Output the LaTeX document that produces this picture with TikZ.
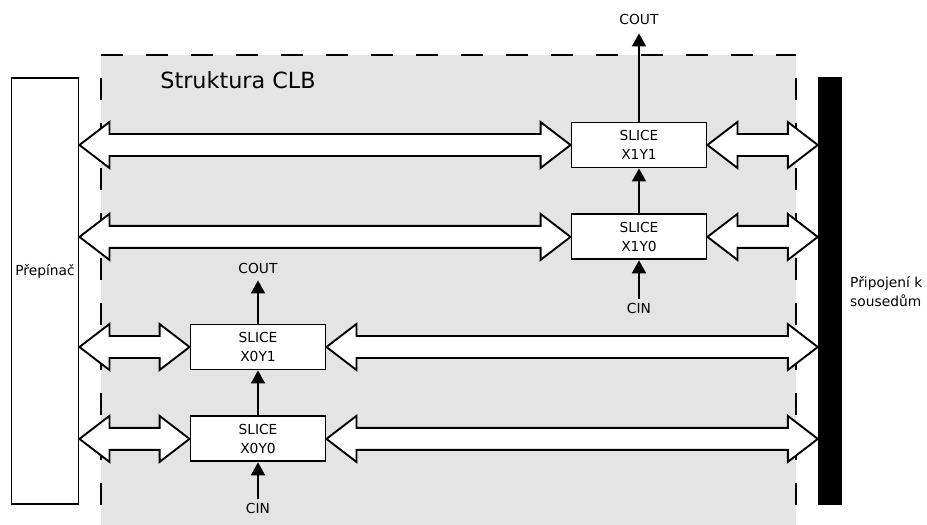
\documentclass[tikz,border=0pt]{standalone}
\usepackage{fontspec}
\setmainfont{DejaVu Sans}
\usetikzlibrary{arrows.meta,calc,positioning}

\definecolor{clbgray}{HTML}{E4E4E4}

\tikzset{
  slice/.style={draw, line width=1.9pt, fill=white, minimum width=135pt,
    minimum height=45pt, inner sep=0pt, align=center,
    font=\fontsize{13.8}{18.3}\selectfont},
  busarrow/.style={draw, line width=1.9pt, fill=white, line join=miter},
  carry/.style={line width=1.9pt, -{Triangle[length=13pt,width=14pt]}},
  lbl/.style={inner sep=0pt, font=\fontsize{13.8}{19}\selectfont},
  border/.style={line width=1.9pt, dash pattern=on 22pt off 23pt},
}

% fat double arrow between two points on one row
\newcommand\busarrow[2]{%
  \path[busarrow] let \p1=(#1), \p2=(#2) in
    (\x1,\y1) -- (\x1+30pt,\y1+23pt) -- (\x1+30pt,\y1+11pt)
    -- (\x2-30pt,\y2+11pt) -- (\x2-30pt,\y2+23pt) -- (\x2,\y2)
    -- (\x2-30pt,\y2-23pt) -- (\x2-30pt,\y2-11pt)
    -- (\x1+30pt,\y1-11pt) -- (\x1+30pt,\y1-23pt) -- cycle;}

\begin{document}
\begin{tikzpicture}[x=1pt,y=-1pt]
\useasboundingbox (0,0) rectangle (927,525);

% CLB area
\fill[clbgray] (101,55) rectangle (796,525);
\draw[border] (101,55) -- (796,55);
\draw[border, dash phase=22pt] (101,55) -- (101,525);
\draw[border, dash phase=22pt] (796,55) -- (796,525);
\node[inner sep=0pt, font=\fontsize{22.3}{26}\selectfont] (title) at (238,80) {Struktura CLB};

% switch and neighbours
\node[draw, line width=1.9pt, minimum width=67pt, minimum height=426pt, inner sep=0pt] (sw) at (45,291) {};
\node[lbl] (swlbl) at (45,271) {Přepínač};
\node[fill=black, minimum width=24pt, minimum height=428pt, inner sep=0pt] (nb) at (830,291) {};
\node[lbl, align=left, anchor=west] (nblbl) at (850,292) {Připojení k\\sousedům};

% slices
\node[slice] (s11) at (639,145) {SLICE\\X1Y1};
\node[slice, below=45pt of s11] (s10) {SLICE\\X1Y0};
\node[slice] (s01) at (258,347) {SLICE\\X0Y1};
\node[slice, below=45pt of s01] (s00) {SLICE\\X0Y0};

% buses
\busarrow{sw.east |- s11.west}{s11.west}
\busarrow{s11.east}{nb.west |- s11.east}
\busarrow{sw.east |- s10.west}{s10.west}
\busarrow{s10.east}{nb.west |- s10.east}
\busarrow{sw.east |- s01.west}{s01.west}
\busarrow{s01.east}{nb.west |- s01.east}
\busarrow{sw.east |- s00.west}{s00.west}
\busarrow{s00.east}{nb.west |- s00.east}

% carry chains
\node[lbl] (cout1) at (639,19) {COUT};
\node[lbl] (cin1) at (639,308) {CIN};
\draw[carry, shorten >=9pt] (s11) -- (cout1);
\draw[carry] (s10) -- (s11);
\draw[carry, shorten <=4pt] (cin1) -- (s10);

\node[lbl] (cout0) at (258,268) {COUT};
\node[lbl] (cin0) at (258,508) {CIN};
\draw[carry, shorten >=7pt] (s01) -- (cout0);
\draw[carry] (s00) -- (s01);
\draw[carry, shorten <=4pt] (cin0) -- (s00);
\end{tikzpicture}
\end{document}
